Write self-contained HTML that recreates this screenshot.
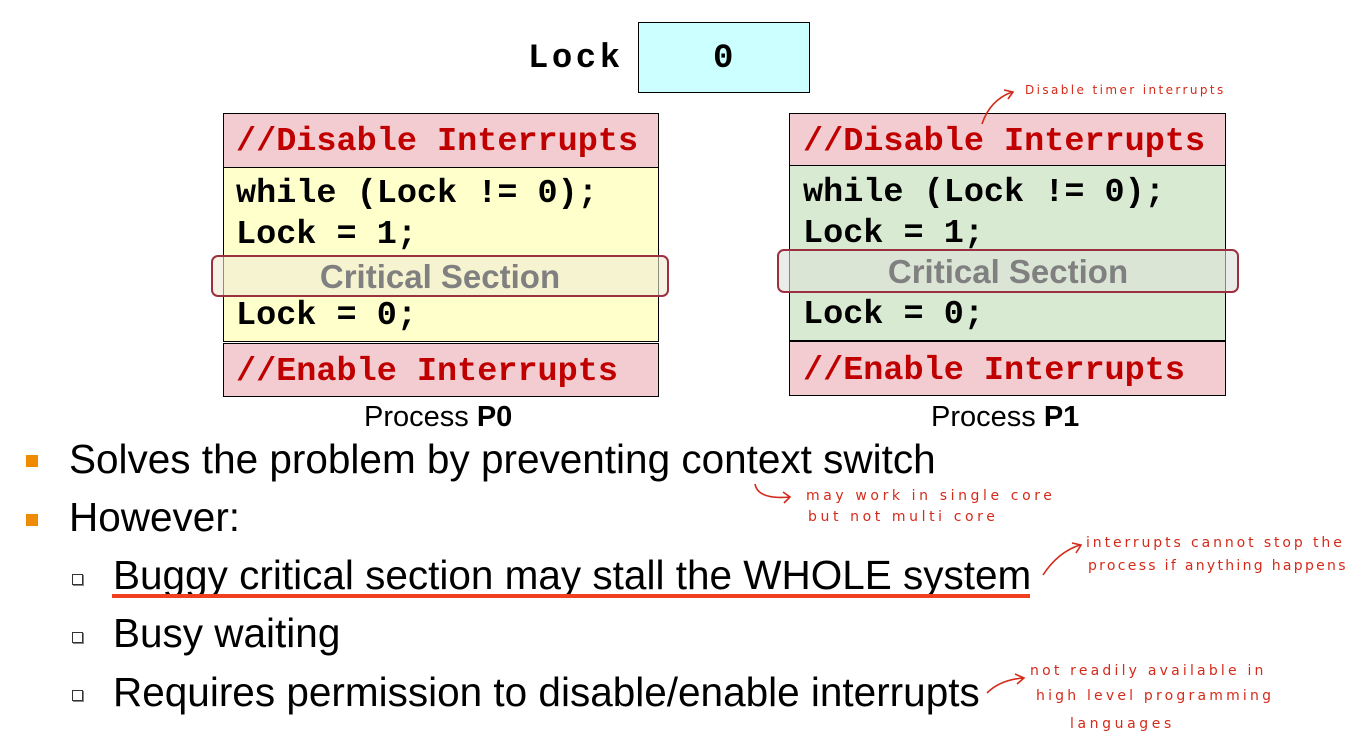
<!DOCTYPE html>
<html><head><meta charset="utf-8"><style>
body{margin:0;width:1366px;height:739px;background:#fff;position:relative;overflow:hidden;font-family:"Liberation Sans",sans-serif}
.a{position:absolute}
.code{font-family:"Liberation Mono",monospace;font-weight:bold;font-size:33.5px;letter-spacing:0px;white-space:nowrap;position:absolute;line-height:38px}
.red{color:#c00000}
.box{position:absolute;border:1.5px solid #000;box-sizing:border-box}
.cs{position:absolute;border:2px solid #9b3040;border-radius:7px;box-sizing:border-box;color:#808080;font-weight:bold;font-size:33px;text-align:center}
.hw{position:absolute;color:#d42a1a;font-size:14px;letter-spacing:3.6px;white-space:nowrap;font-family:"DejaVu Sans",sans-serif}
.b{position:absolute;font-size:40.5px;white-space:nowrap;color:#000;line-height:46px}
.sq{position:absolute;width:12px;height:12px;background:#f08a00}
.sb{position:absolute;width:9px;height:9px;border:1.5px solid #333;box-shadow:1px 1px 0 #888}
</style></head><body>
<div class="code" style="left:528px;top:40px;font-size:34px;letter-spacing:3.5px">Lock</div>
<div class="box" style="left:638px;top:22px;width:172px;height:71px;background:#ccffff"></div>
<div class="code" style="left:713px;top:40px;font-size:34px">0</div>

<div class="box" style="left:223px;top:113px;width:436px;height:55px;background:#f2ccd0"></div>
<div class="box" style="left:223px;top:167px;width:436px;height:175px;background:#ffffcc"></div>
<div class="box" style="left:223px;top:343px;width:436px;height:54px;background:#f2ccd0"></div>
<div class="code red" style="left:236px;top:123px">//Disable Interrupts</div>
<div class="code" style="left:236px;top:175px">while (Lock != 0);</div>
<div class="code" style="left:236px;top:216px">Lock = 1;</div>
<div class="cs" style="left:211px;top:255px;width:458px;height:42px;line-height:40px;background:rgba(240,235,210,0.6)">Critical Section</div>
<div class="code" style="left:236px;top:297px">Lock = 0;</div>
<div class="code red" style="left:236px;top:353px">//Enable Interrupts</div>
<div class="a" style="left:364px;top:401px;font-size:29px">Process <b>P0</b></div>

<div class="box" style="left:789px;top:113px;width:437px;height:53px;background:#f2ccd0"></div>
<div class="box" style="left:789px;top:165px;width:437px;height:176px;background:#d9ead3"></div>
<div class="box" style="left:789px;top:341px;width:437px;height:55px;background:#f2ccd0"></div>
<div class="code red" style="left:803px;top:123px">//Disable Interrupts</div>
<div class="code" style="left:803px;top:174px">while (Lock != 0);</div>
<div class="code" style="left:803px;top:215px">Lock = 1;</div>
<div class="cs" style="left:777px;top:249px;width:462px;height:44px;line-height:42px;background:rgba(220,225,215,0.6)">Critical Section</div>
<div class="code" style="left:803px;top:296px">Lock = 0;</div>
<div class="code red" style="left:803px;top:352px">//Enable Interrupts</div>
<div class="a" style="left:931px;top:401px;font-size:29px">Process <b>P1</b></div>

<div class="sq" style="left:26px;top:455px"></div>
<div class="b" style="left:69px;top:436px">Solves the problem by preventing context switch</div>
<div class="sq" style="left:26px;top:514px"></div>
<div class="b" style="left:69px;top:494px">However:</div>
<div class="sb" style="left:72px;top:574px"></div>
<div class="b" style="left:113px;top:552px">Buggy critical section may stall the WHOLE system</div>
<div class="a" style="left:112px;top:594px;width:918px;height:4px;background:#f04020"></div>
<div class="sb" style="left:72px;top:632px"></div>
<div class="b" style="left:113px;top:610px">Busy waiting</div>
<div class="sb" style="left:72px;top:690px"></div>
<div class="b" style="left:113px;top:669px">Requires permission to disable/enable interrupts</div>

<svg class="a" style="left:0;top:0" width="1366" height="739" fill="none" stroke="#d42a1a" stroke-width="1.6">
<path d="M982 124 Q990 100 1012 92 M1004 90 L1013 92 L1008 99"/>
<path d="M755 484 Q758 500 790 497 M783 492 L790 497 L784 503"/>
<path d="M1043 575 Q1058 552 1080 545 M1072 543 L1081 545 L1076 553"/>
<path d="M987 693 Q1000 680 1023 678 M1015 674 L1024 678 L1017 684"/>
</svg>
<div class="hw" style="left:1025px;top:83px;font-size:12px;letter-spacing:2.4px">Disable timer interrupts</div>
<div class="hw" style="left:806px;top:488px">may work in single core</div>
<div class="hw" style="left:808px;top:509px">but not multi core</div>
<div class="hw" style="left:1086px;top:535px;letter-spacing:2.9px">interrupts cannot stop the</div>
<div class="hw" style="left:1088px;top:558px;letter-spacing:2.3px">process if anything happens</div>
<div class="hw" style="left:1030px;top:663px;letter-spacing:3.2px">not readily available in</div>
<div class="hw" style="left:1036px;top:688px;letter-spacing:3.2px">high level programming</div>
<div class="hw" style="left:1070px;top:716px">languages</div>
</body></html>
